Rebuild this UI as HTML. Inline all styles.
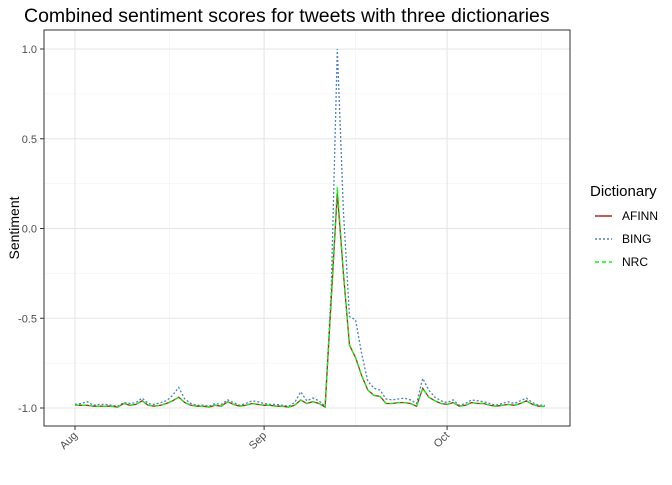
<!DOCTYPE html>
<html><head><meta charset="utf-8"><style>
body{margin:0;background:#fff;font-family:"Liberation Sans",Arial,sans-serif}
svg text{font-family:"Liberation Sans",Arial,sans-serif}
</style></head><body>
<svg id="chart" width="672" height="480" xmlns="http://www.w3.org/2000/svg">
<rect width="672" height="480" fill="#fff"/>
<text x="24" y="22" font-size="19.5" fill="#000">Combined sentiment scores for tweets with three dictionaries</text>
<g id="grid"></g>
<g id="series"></g>
<rect x="44" y="30" width="526" height="396" fill="none" stroke="#333" stroke-width="1"/>
<g id="axes"></g>
<text transform="translate(19,228) rotate(-90)" text-anchor="middle" font-size="14">Sentiment</text>
<g>
<text x="590" y="196" font-size="15">Dictionary</text>
<g><line x1="595" y1="216" x2="612" y2="216" stroke="#a52a2a" stroke-width="1.5"/><text x="622" y="220" font-size="12">AFINN</text></g>
<g><line x1="595" y1="239" x2="612" y2="239" stroke="#4f81bd" stroke-width="1.5" stroke-dasharray="2,2"/><text x="622" y="243" font-size="12">BING</text></g>
<g><line x1="595" y1="262" x2="612" y2="262" stroke="#00ff00" stroke-width="1.5" stroke-dasharray="4,3"/><text x="622" y="266" font-size="12">NRC</text></g>
</g>
</svg>
<script>
const afinn=[-0.985,-0.985,-0.985,-0.99,-0.99,-0.99,-0.99,-0.995,-0.975,-0.985,-0.98,-0.96,-0.985,-0.99,-0.985,-0.975,-0.96,-0.94,-0.97,-0.985,-0.99,-0.99,-0.995,-0.985,-0.99,-0.965,-0.98,-0.99,-0.985,-0.975,-0.98,-0.985,-0.985,-0.99,-0.99,-0.995,-0.985,-0.955,-0.975,-0.965,-0.975,-0.995,-0.4,0.2,-0.25,-0.65,-0.72,-0.82,-0.9,-0.93,-0.935,-0.975,-0.975,-0.97,-0.97,-0.975,-0.99,-0.89,-0.94,-0.96,-0.975,-0.98,-0.97,-0.99,-0.985,-0.97,-0.975,-0.975,-0.985,-0.99,-0.985,-0.98,-0.985,-0.975,-0.96,-0.98,-0.99,-0.99];
const bing=[-0.98,-0.975,-0.965,-0.985,-0.98,-0.98,-0.985,-0.99,-0.97,-0.975,-0.97,-0.945,-0.975,-0.98,-0.97,-0.96,-0.93,-0.885,-0.95,-0.975,-0.985,-0.985,-0.99,-0.975,-0.98,-0.955,-0.97,-0.985,-0.975,-0.96,-0.965,-0.975,-0.98,-0.98,-0.985,-0.99,-0.97,-0.91,-0.96,-0.945,-0.96,-0.99,-0.35,1.0,0.1,-0.49,-0.51,-0.7,-0.85,-0.89,-0.9,-0.95,-0.955,-0.95,-0.945,-0.955,-0.975,-0.835,-0.9,-0.94,-0.96,-0.97,-0.955,-0.985,-0.975,-0.955,-0.96,-0.965,-0.975,-0.985,-0.975,-0.965,-0.975,-0.96,-0.945,-0.97,-0.985,-0.985];
const nrc=[-0.985,-0.985,-0.985,-0.99,-0.99,-0.99,-0.99,-0.995,-0.975,-0.985,-0.98,-0.96,-0.985,-0.99,-0.985,-0.975,-0.96,-0.94,-0.97,-0.985,-0.99,-0.99,-0.995,-0.985,-0.99,-0.965,-0.98,-0.99,-0.985,-0.975,-0.98,-0.985,-0.985,-0.99,-0.99,-0.995,-0.985,-0.955,-0.975,-0.965,-0.975,-0.995,-0.38,0.23,-0.24,-0.65,-0.72,-0.82,-0.9,-0.93,-0.935,-0.975,-0.975,-0.97,-0.97,-0.975,-0.99,-0.89,-0.94,-0.96,-0.975,-0.98,-0.97,-0.99,-0.985,-0.97,-0.975,-0.975,-0.985,-0.99,-0.985,-0.98,-0.985,-0.975,-0.96,-0.98,-0.99,-0.99];
const yTicks=[-1.0,-0.5,0.0,0.5,1.0];
const yTickLabels=["-1.0","-0.5","0.0","0.5","1.0"];
const xTickDays=[0,31,61];
const xTickLabels=["Aug","Sep","Oct"];
const NS="http://www.w3.org/2000/svg";
const x=d=>75+d*6.1;
const y=v=>228.5-v*179.5;
const grid=document.getElementById('grid'),axes=document.getElementById('axes'),ser=document.getElementById('series');
function mk(tag,attrs,parent){const e=document.createElementNS(NS,tag);for(const k in attrs)e.setAttribute(k,attrs[k]);parent.appendChild(e);return e;}
for(let i=0;i<yTicks.length;i++){
 if(i<yTicks.length-1){const g=mk('line',{x1:44,x2:570,y1:y((yTicks[i]+yTicks[i+1])/2),y2:y((yTicks[i]+yTicks[i+1])/2),stroke:'#f0f0f0','stroke-width':0.6},grid);
 
 }
 const l=mk('line',{x1:44,x2:570,y1:y(yTicks[i]),y2:y(yTicks[i]),stroke:'#e5e5e5','stroke-width':1.1},grid);
 
 
 const t=mk('line',{x1:40,x2:44,y1:y(yTicks[i]),y2:y(yTicks[i]),stroke:'#333'},axes);
 
 
 const tx=mk('text',{x:37,y:y(yTicks[i])+4,'text-anchor':'end','font-size':11,fill:'#4d4d4d'},axes);
 tx.textContent=yTickLabels[i];
 
 
}
for(let i=0;i<xTickDays.length;i++){
 const X=x(xTickDays[i]);
 if(i<xTickDays.length-1){const m=mk('line',{x1:(X+x(xTickDays[i+1]))/2,x2:(X+x(xTickDays[i+1]))/2,y1:30,y2:426,stroke:'#f0f0f0','stroke-width':0.6},grid);
 
 }
 const l=mk('line',{x1:X,x2:X,y1:30,y2:426,stroke:'#e5e5e5','stroke-width':1.1},grid);
 
 
 const t=mk('line',{x1:X,x2:X,y1:426,y2:430,stroke:'#333'},axes);
 
 
 const tx=mk('text',{x:X+3,y:436,'text-anchor':'end','font-size':11,fill:'#4d4d4d',transform:`rotate(-45,${X+3},436)`},axes);
 tx.textContent=xTickLabels[i];
 
 
}
{const m=mk('line',{x1:x(76.5),x2:x(76.5),y1:30,y2:426,stroke:'#f0f0f0','stroke-width':0.6},grid);

}
function line(vals,color,dash,name){
 const p=mk('path',{d:vals.map((v,i)=>(i?'L':'M')+x(i).toFixed(1)+','+y(v).toFixed(1)).join(''),fill:'none',stroke:color,'stroke-width':1.3,'stroke-dasharray':dash},ser);
 
 
}
line(bing,'#4f81bd','2,2','bing-line');
line(afinn,'#a52a2a','none','afinn-line');
line(nrc,'#00ff00','4,3','nrc-line');
</script>
</body></html>
